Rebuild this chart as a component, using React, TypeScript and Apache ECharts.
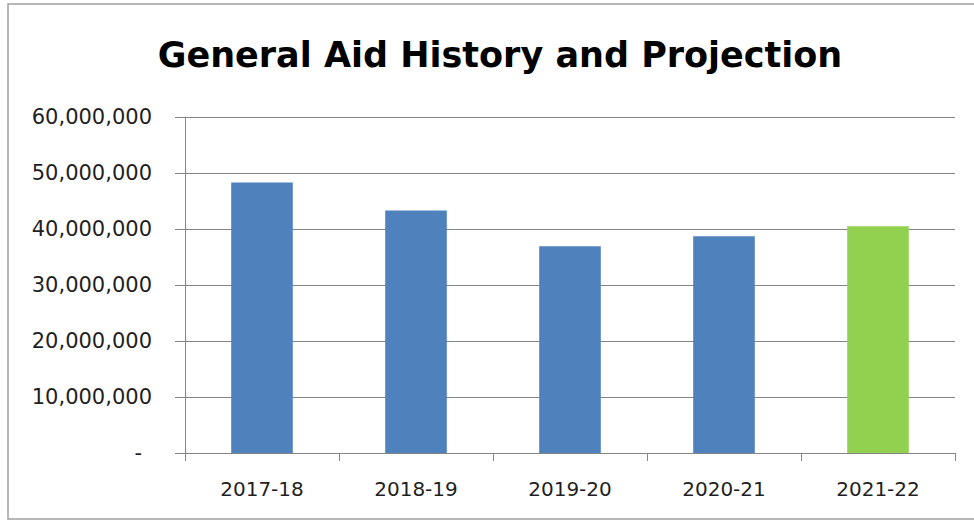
import React, { useEffect, useRef } from "react";
import * as echarts from "echarts";

const TITLE = "General Aid History and Projection";
const categories = ["2017-18", "2018-19", "2019-20", "2020-21", "2021-22"];
const aidValues = [48300000, 43300000, 36900000, 38700000, 40500000];
const barColors = ["#4F81BD", "#4F81BD", "#4F81BD", "#4F81BD", "#92D050"];
const yMax = 60000000;
const yStep = 10000000;

const FONT = "DejaVu Sans";

export default function App() {
  const ref = useRef<HTMLDivElement>(null);
  useEffect(() => {
    if (!ref.current) return;
    const chart = echarts.init(ref.current, null, { renderer: "svg" });
    chart.setOption({
      animation: false,
      backgroundColor: "#ffffff",
      title: {
        text: TITLE,
        left: 495,
        textAlign: "center",
        top: 32,
        textStyle: {
          fontFamily: FONT,
          fontWeight: "bold",
          fontSize: 35,
          color: "#000000",
        },
      },
      graphic: [
        {
          type: "rect",
          shape: { x: 8, y: 4, width: 980, height: 515 },
          style: { fill: "none", stroke: "#a0a0a0", lineWidth: 1.5 },
          silent: true,
        },
      ],
      grid: { left: 185, right: 19, top: 117, bottom: 68, containLabel: false },
      xAxis: {
        type: "category",
        data: categories,
        boundaryGap: true,
        axisLine: { show: true, lineStyle: { color: "#868686", width: 1 } },
        axisTick: { show: true, length: 8, alignWithLabel: false, lineStyle: { color: "#868686" } },
        axisLabel: {
          margin: 26,
          fontFamily: FONT,
          fontSize: 20,
          color: "#1f1f1f",
        },
        splitLine: { show: false },
      },
      yAxis: {
        type: "value",
        min: 0,
        max: yMax,
        interval: yStep,
        axisLine: { show: true, lineStyle: { color: "#868686", width: 1 } },
        axisTick: { show: true, length: 10, lineStyle: { color: "#868686" } },
        splitLine: { show: true, lineStyle: { color: "#868686", width: 1 } },
        axisLabel: {
          margin: 33,
          fontFamily: FONT,
          fontSize: 21,
          color: "#1f1f1f",
          formatter: (v: number) =>
            v === 0 ? "{d|-}" : v.toLocaleString("en-US"),
          rich: {
            d: { fontFamily: FONT, fontSize: 21, color: "#1f1f1f", padding: [0, 10, 0, 0] },
          },
        },
      },
      series: [
        {
          type: "bar",
          barWidth: "40%",
          data: aidValues.map((v, i) => ({ value: v, itemStyle: { color: barColors[i] } })),
        },
      ],
    });
    return () => chart.dispose();
  }, []);
  return (
    <div
      ref={ref}
      style={{ position: "absolute", left: 0, top: 0, width: 974, height: 521 }}
    />
  );
}
